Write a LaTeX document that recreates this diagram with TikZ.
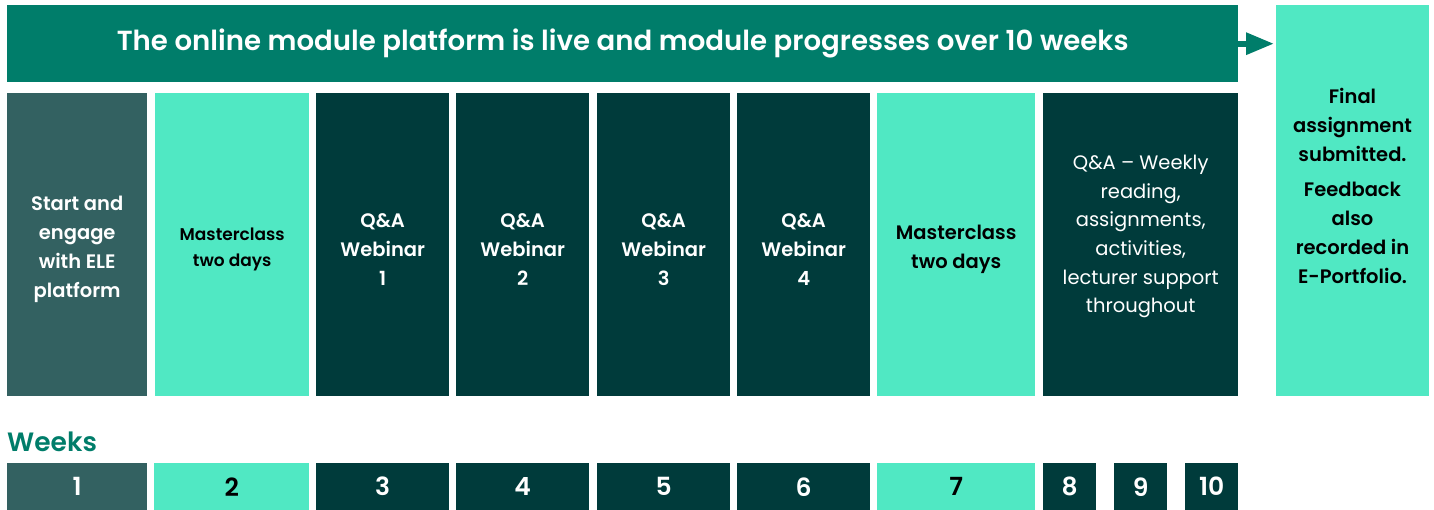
\documentclass[tikz,border=0pt]{standalone}
\usepackage{fontspec}
\setmainfont{Poppins}[BoldFont={Poppins SemiBold}]
\usetikzlibrary{arrows.meta}
\definecolor{banner}{RGB}{0,125,106}
\definecolor{startc}{RGB}{51,97,97}
\definecolor{mint}{RGB}{80,232,195}
\definecolor{darkc}{RGB}{0,59,59}
\tikzset{
  box/.style={draw=none, minimum height=303pt, inner sep=0pt, anchor=north west},
  wk/.style={draw=none, minimum height=47pt, inner sep=0pt, anchor=north west, font=\fontsize{25}{28}\selectfont\bfseries},
  coltext/.style={align=center, yshift=-5pt, font=\fontsize{19.5}{29}\selectfont\bfseries},
}
\begin{document}
\begin{tikzpicture}[x=1pt,y=-1pt]
\useasboundingbox (0,0) rectangle (1434,510);
% banner
\node[fill=banner, minimum width=1231pt, minimum height=77pt, inner sep=0pt, anchor=north west, text=white, font=\fontsize{27.6}{30}\selectfont\bfseries] (ban) at (7,5) {The online module platform is live and module progresses over 10 weeks};
% final box
\node[fill=mint, minimum width=153pt, minimum height=391pt, inner sep=0pt, anchor=north west] (fin) at (1276,5) {};
\node[align=center, text=black, font=\fontsize{19.5}{29}\selectfont\bfseries, anchor=north] (fint) at (1352.5,85) {Final\\assignment\\submitted.\\[6pt]Feedback\\also\\recorded in\\E-Portfolio.};
\draw[banner, line width=6pt, -{Triangle[length=28pt,width=21pt]}] (ban.east) -- ([xshift=-2pt]ban.east -| fin.west);
% columns
\node[box, fill=startc, minimum width=140pt] (c1) at (7,93) {};
\node[box, fill=mint, minimum width=154pt] (c2) at (155,93) {};
\node[box, fill=darkc, minimum width=133pt] (c3) at (316,93) {};
\node[box, fill=darkc, minimum width=133pt] (c4) at (456,93) {};
\node[box, fill=darkc, minimum width=133pt] (c5) at (597,93) {};
\node[box, fill=darkc, minimum width=133pt] (c6) at (737,93) {};
\node[box, fill=mint, minimum width=158pt] (c7) at (877,93) {};
\node[box, fill=darkc, minimum width=195pt] (c8) at (1043,93) {};
\node[coltext, text=white] (t1) at (c1.center) {Start and\\engage\\with ELE\\platform};
\node[coltext, text=black, font=\fontsize{17}{26}\selectfont\bfseries] (t2) at (c2.center) {Masterclass\\two days};
\node[coltext, text=white] (t3) at (c3.center) {Q\&A\\Webinar\\1};
\node[coltext, text=white] (t4) at (c4.center) {Q\&A\\Webinar\\2};
\node[coltext, text=white] (t5) at (c5.center) {Q\&A\\Webinar\\3};
\node[coltext, text=white] (t6) at (c6.center) {Q\&A\\Webinar\\4};
\node[coltext, text=black] (t7) at (c7.center) {Masterclass\\two days};
\node[coltext, yshift=13pt, text=white, font=\fontsize{19.5}{28.6}\selectfont] (t8) at (c8.center) {Q\&A -- Weekly\\reading,\\assignments,\\activities,\\lecturer support\\throughout};
% weeks
\node[anchor=west, inner sep=0pt, text=banner, font=\fontsize{26.5}{28}\selectfont\bfseries] (wl) at (7,442) {Weeks};
\node[wk, fill=startc, minimum width=140pt, text=white] (w1) at (7,463) {1};
\node[wk, fill=mint, minimum width=155pt, text=black] (w2) at (154,463) {2};
\node[wk, fill=darkc, minimum width=133pt, text=white] (w3) at (316,463) {3};
\node[wk, fill=darkc, minimum width=133pt, text=white] (w4) at (456,463) {4};
\node[wk, fill=darkc, minimum width=133pt, text=white] (w5) at (597,463) {5};
\node[wk, fill=darkc, minimum width=133pt, text=white] (w6) at (737,463) {6};
\node[wk, fill=mint, minimum width=158pt, text=black] (w7) at (877,463) {7};
\node[wk, fill=darkc, minimum width=53pt, text=white] (w8) at (1043,463) {8};
\node[wk, fill=darkc, minimum width=53pt, text=white] (w9) at (1114,463) {9};
\node[wk, fill=darkc, minimum width=53pt, text=white] (w10) at (1185,463) {10};
\end{tikzpicture}
\end{document}
